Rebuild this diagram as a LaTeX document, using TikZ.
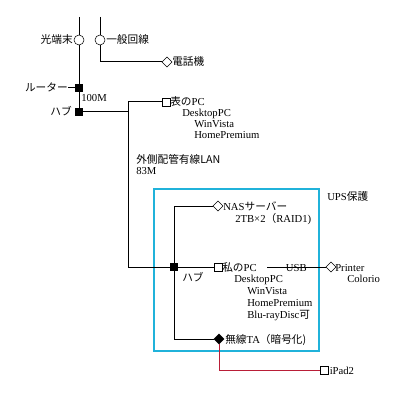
\documentclass[tikz,border=0pt]{standalone}
\usepackage{fontspec}
\setmainfont{Liberation Serif}
\newfontfamily\jp{Noto Sans CJK JP}
\usetikzlibrary{shapes.geometric}
\definecolor{upscyan}{RGB}{32,178,218}
\definecolor{wlred}{RGB}{185,30,55}
\tikzset{
  txt/.style={inner sep=0pt, font=\fontsize{8}{9}\selectfont, anchor=base west},
  hubbox/.style={draw, fill=black, minimum size=5.5pt, inner sep=0pt},
  onu/.style={draw, circle, fill=white, minimum size=7.5pt, inner sep=0pt},
  pcbox/.style={draw, fill=white, minimum size=6pt, inner sep=0pt},
  dia/.style={draw, diamond, fill=white, minimum size=7.5pt, inner sep=0pt},
  wire/.style={line width=0.75pt}
}
\begin{document}
\begin{tikzpicture}[x=0.75pt, y=-0.75pt]
\useasboundingbox (0,0) rectangle (415,416);

% UPS box
\draw[upscyan, line width=2pt] (154,189) rectangle (319,351);
\node[txt] (ups) at (327,200) {UPS{\jp 保護}};

% incoming lines
\coordinate (top1) at (79,17);
\coordinate (top2) at (100,17);
\node[onu] (onu) at (79,40) {};
\node[onu] (tline) at (100,40) {};
\node[txt, anchor=base east] (onulbl) at (73,44) {\jp 光端末};
\node[txt] (tlinelbl) at (106,44) {\jp 一般回線};
\coordinate (telc) at (100,62);
\node[dia] (tel) at (167,62) {};
\node[txt] (tellbl) at (172,66) {\jp 電話機};

% router and first hub
\node[hubbox] (router) at (79,88) {};
\node[txt, anchor=base east] (routerlbl) at (68,92) {\jp ルーター};
\node[txt] (speed1) at (81,102) {100M};
\node[hubbox] (hub1) at (79,112) {};
\node[txt, anchor=base east] (hub1lbl) at (72,116) {\jp ハブ};

\draw[wire] (top1) -- (onu) -- (router) -- (hub1);
\draw[wire] (top2) -- (tline) -- (telc) -- (tel);
\draw[wire] (routerlbl.east |- router) -- (router);

% front PC
\coordinate (j1) at (128,112);
\coordinate (j2) at (128,102);
\coordinate (j3) at (128,267);
\node[pcbox] (frontpc) at (166,102) {};
\node[txt] (frontlbl) at (170,106) {{\jp 表の}PC};
\node[txt] at (182,117) {DesktopPC};
\node[txt] at (194,128) {WinVista};
\node[txt] at (194,139) {HomePremium};
\node[txt] (lanlbl) at (136,164) {\jp 外側配管有線LAN};
\node[txt] (speed2) at (136,175) {83M};

\draw[wire] (hub1) -- (j1);
\draw[wire] (frontpc) -- (j2) -- (j3);

% second hub
\node[hubbox] (hub2) at (174,267) {};
\node[txt] (hub2lbl) at (182,281) {\jp ハブ};
\coordinate (nasc) at (174,206);
\coordinate (tac) at (174,339);

\node[dia] (nas) at (218,206) {};
\node[txt] (naslbl) at (223,210) {NAS{\jp サーバー}};
\node[txt] at (235,222) {2TB×2{\jp （}RAID1)};

\node[pcbox] (mypc) at (218,267) {};
\node[txt] (mypclbl) at (222,271) {{\jp 私の}PC};
\node[txt] at (234,282) {DesktopPC};
\node[txt] at (247,294) {WinVista};
\node[txt] at (247,306) {HomePremium};
\node[txt] at (247,318) {Blu-rayDisc{\jp 可}};

\node[dia] (printer) at (331,267) {};
\node[txt] (printerlbl) at (335,271) {Printer};
\node[txt] at (347,282) {Colorio};
\coordinate (usbs) at (267,267);

\node[dia, fill=black] (ta) at (219,339) {};
\node[txt] (talbl) at (225,343) {{\jp 無線}TA{\jp （暗号化)}};

\draw[wire] (j3) -- (hub2) -- (mypc);
\draw[wire] (nasc) -- (tac);
\draw[wire] (nasc) -- (nas);
\draw[wire] (tac) -- (ta);
\draw[wire] (usbs) -- node[txt, anchor=center, yshift=-0.5pt] (usblbl) {USB} (printer);

% wireless
\coordinate (ipadc) at (219,370);
\node[pcbox] (ipad) at (324,370) {};
\node[txt] (ipadlbl) at (329.5,374) {iPad2};
\draw[wire, wlred] (ta) -- (ipadc) -- (ipad);
\end{tikzpicture}
\end{document}
